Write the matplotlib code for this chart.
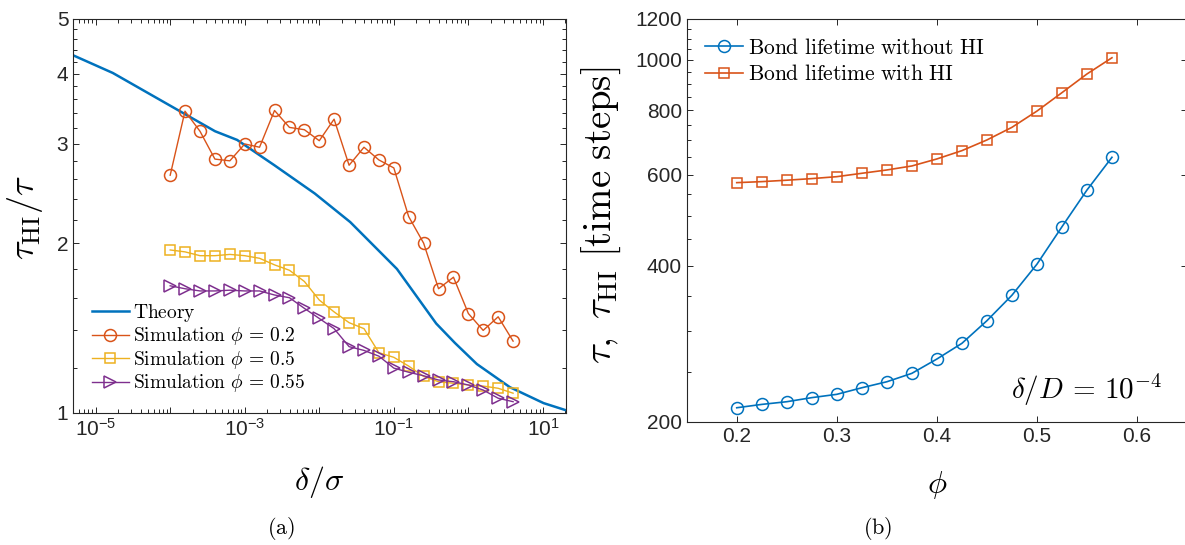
import matplotlib
matplotlib.use("Agg")
import matplotlib.pyplot as plt
from matplotlib.ticker import FixedLocator, MultipleLocator, NullFormatter, LogLocator

# ---- dados do painel (a) ----
theory_delta = [5.0e-6, 1.7e-5, 4.0e-4, 7.9e-4, 2.5e-3, 8.7e-3, 2.6e-2, 0.11, 0.37, 0.66, 1.3, 3.6, 10.2, 20.4]
theory_ratio = [4.31, 4.01, 3.16, 3.05, 2.75, 2.45, 2.18, 1.80, 1.44, 1.33, 1.22, 1.11, 1.04, 1.01]

sim_delta = [1.00e-4, 1.58e-4, 2.51e-4, 3.98e-4, 6.31e-4, 1.00e-3, 1.58e-3, 2.51e-3,
             3.98e-3, 6.31e-3, 1.00e-2, 1.58e-2, 2.51e-2, 3.98e-2, 6.31e-2, 0.100,
             0.158, 0.251, 0.398, 0.631, 1.00, 1.58, 2.51, 3.98]
sim_phi02 = [2.64, 3.43, 3.16, 2.82, 2.80, 3.00, 2.96, 3.44, 3.21, 3.18, 3.04, 3.32,
             2.75, 2.96, 2.81, 2.72, 2.23, 2.00, 1.66, 1.74, 1.50, 1.40, 1.48, 1.34]
sim_phi05 = [1.945, 1.93, 1.90, 1.90, 1.91, 1.90, 1.88, 1.83, 1.79, 1.71, 1.585, 1.51,
             1.445, 1.41, 1.278, 1.254, 1.21, 1.16, 1.135, 1.128, 1.12, 1.115, 1.105, 1.083]
sim_phi055 = [1.68, 1.66, 1.645, 1.645, 1.65, 1.645, 1.645, 1.618, 1.60, 1.532, 1.47, 1.41,
              1.31, 1.29, 1.26, 1.20, 1.18, 1.163, 1.143, 1.135, 1.12, 1.097, 1.061, 1.046]

a_xticks = [1e-5, 1e-4, 1e-3, 1e-2, 1e-1, 1e0, 1e1]
a_xlabels = [r"$\mathregular{10^{-5}}$", "", r"$\mathregular{10^{-3}}$", "",
             r"$\mathregular{10^{-1}}$", "", r"$\mathregular{10^{1}}$"]
a_yticks = [1, 2, 3, 4, 5]

# ---- dados do painel (b) ----
phi = [0.2, 0.225, 0.25, 0.275, 0.3, 0.325, 0.35, 0.375, 0.4, 0.425, 0.45, 0.475,
       0.5, 0.525, 0.55, 0.575]
life_noHI = [212.8, 216.0, 218.6, 222.6, 225.9, 232.6, 238.9, 248.0, 264.3, 283.4,
             313.4, 351.0, 403.0, 476.0, 560.6, 648.6]
life_HI = [579.4, 582.0, 585.7, 589.9, 595.0, 604.0, 613.0, 624.0, 643.8, 668.0,
           700.5, 741.0, 796.5, 864.6, 939.6, 1010.0]
b_xticks = [0.2, 0.3, 0.4, 0.5, 0.6]
b_yticks = [200, 400, 600, 800, 1000, 1200]

# cores padrão do MATLAB
c_blue = "#0072BD"
c_orange = "#D95319"
c_yellow = "#EDB120"
c_purple = "#7E2F8E"
c_axis = "#262626"

plt.rcParams["font.family"] = ["Liberation Sans", "DejaVu Sans"]
plt.rcParams["mathtext.fontset"] = "cm"

W, H = 1185, 545
fig = plt.figure(figsize=(W / 100, H / 100), dpi=100)


def px_axes(x0, y0, x1, y1):
    # retângulo em pixels (origem no canto superior esquerdo)
    return fig.add_axes([x0 / W, 1 - y1 / H, (x1 - x0) / W, (y1 - y0) / H])


def estilo(ax):
    for s in ax.spines.values():
        s.set_color(c_axis)
        s.set_linewidth(0.8)
    ax.tick_params(which="both", direction="in", top=True, right=True,
                   colors=c_axis, labelsize=15, width=0.7)
    ax.tick_params(which="major", length=4.5)
    ax.tick_params(which="minor", length=2.6)


# ================= (a) =================
ax1 = px_axes(73.2, 19, 566, 412.7)
ax1.plot(theory_delta, theory_ratio, color=c_blue, lw=1.8, label=r"$\mathrm{Theory}$")
ax1.plot(sim_delta, sim_phi02, color=c_orange, lw=1.0, marker="o", ms=8.6, mfc="none",
         mew=1.1, label=r"$\mathrm{Simulation}\ \phi\,=\,0.2$")
ax1.plot(sim_delta, sim_phi05, color=c_yellow, lw=1.0, marker="s", ms=6.8, mfc="none",
         mew=1.1, label=r"$\mathrm{Simulation}\ \phi\,=\,0.5$")
ax1.plot(sim_delta, sim_phi055, color=c_purple, lw=1.0, marker=">", ms=8.6, mfc="none",
         mew=1.1, label=r"$\mathrm{Simulation}\ \phi\,=\,0.55$")
ax1.set_xscale("log")
ax1.set_yscale("log")
ax1.set_xlim(5e-6, 20.4)
ax1.set_ylim(1, 5)
ax1.set_xticks(a_xticks, a_xlabels)
ax1.xaxis.set_minor_locator(LogLocator(base=10, subs=range(2, 10), numticks=50))
ax1.xaxis.set_minor_formatter(NullFormatter())
ax1.yaxis.set_major_locator(FixedLocator(a_yticks))
ax1.set_yticklabels([str(v) for v in a_yticks])
ax1.yaxis.set_minor_locator(MultipleLocator(0.2))
ax1.yaxis.set_minor_formatter(NullFormatter())
estilo(ax1)
ax1.set_xlabel(r"$\delta/\sigma$", fontsize=23, va="center")
ax1.xaxis.set_label_coords(0.5, -0.175)
ax1.set_ylabel(r"$\tau_{\mathrm{HI}}/\tau$", fontsize=26, va="center")
ax1.yaxis.set_label_coords(-0.098, 0.495)
ax1.legend(loc="center left", bbox_to_anchor=(0.0375, 0.164), frameon=False,
           fontsize=14, borderpad=0, borderaxespad=0, handlelength=1.9,
           handletextpad=0.25, labelspacing=0.08)

# ================= (b) =================
ax2 = px_axes(686.7, 19, 1187, 421.7)
ax2.plot(phi, life_noHI, color=c_blue, lw=1.2, marker="o", ms=8.6, mfc="none", mew=1.1,
         label=r"$\mathrm{Bond\ lifetime\ without\ HI}$")
ax2.plot(phi, life_HI, color=c_orange, lw=1.2, marker="s", ms=6.8, mfc="none", mew=1.1,
         label=r"$\mathrm{Bond\ lifetime\ with\ HI}$")
ax2.set_yscale("log")
ax2.set_xlim(0.15, 0.65)
ax2.set_ylim(200, 1200)
ax2.set_xticks(b_xticks, [str(v) for v in b_xticks])
ax2.yaxis.set_major_locator(FixedLocator(b_yticks))
ax2.set_yticklabels([str(v) for v in b_yticks])
ax2.yaxis.set_minor_locator(MultipleLocator(50))
ax2.yaxis.set_minor_formatter(NullFormatter())
estilo(ax2)
ax2.tick_params(axis="y", which="minor", right=False)
ax2.set_xlabel(r"$\phi$", fontsize=23, va="center")
ax2.xaxis.set_label_coords(0.5, -0.157)
ax2.set_ylabel(r"$\tau,\ \tau_{\mathrm{HI}}\ [\mathrm{time\ steps}]$", fontsize=28, va="center")
ax2.yaxis.set_label_coords(-0.17, 0.513)
ax2.legend(loc="center left", bbox_to_anchor=(0.0356, 0.8947), frameon=False,
           fontsize=15.5, borderpad=0, borderaxespad=0, handlelength=1.8,
           handletextpad=0.22, labelspacing=0.25)
ax2.text(0.80, 0.079, r"$\delta/D\,=\,10^{-4}$", transform=ax2.transAxes,
         fontsize=21, ha="center", va="center")

# legendas das subfiguras
fig.text(281 / W, 1 - 528 / H, r"$\mathrm{(a)}$", fontsize=16, ha="center", va="center")
fig.text(878 / W, 1 - 528 / H, r"$\mathrm{(b)}$", fontsize=16, ha="center", va="center")

fig.savefig("out.png", dpi=100)
